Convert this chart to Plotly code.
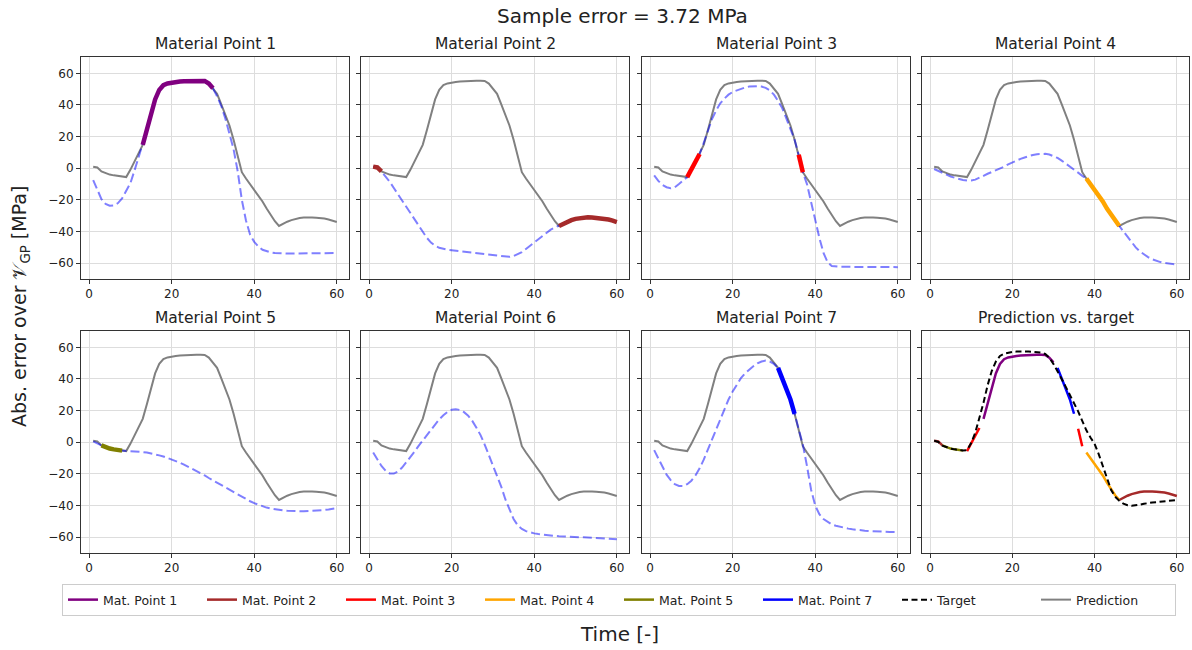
import plotly.graph_objects as go

# ---------------- data ----------------
time = list(range(1, 61))

prediction = [1.0, 0.5, -2.0, -3.2, -4.0, -4.5, -4.9, -5.3, -5.6, -1.0,
              4.0, 9.0, 14.8, 24.0, 34.0, 43.5, 49.5, 52.5, 53.6, 54.2,
              54.5, 54.8, 55.0, 55.1, 55.2, 55.3, 55.3, 55.2, 53.5, 50.5,
              47.0, 40.5, 33.5, 27.0, 18.0, 8.5, -2.5, -6.5, -10.0, -13.5,
              -17.0, -21.0, -25.5, -29.5, -33.5, -36.5, -35.0, -33.8, -32.8, -32.0,
              -31.5, -31.2, -31.0, -31.1, -31.3, -31.5, -31.8, -32.4, -33.1, -34.0]

target = [1.0, 0.2, -2.2, -3.3, -4.0, -4.5, -5.0, -5.2, -5.0, -0.5,
          6.0, 15.0, 25.0, 36.0, 45.0, 51.0, 54.5, 56.0, 56.7, 57.1,
          57.3, 57.4, 57.4, 57.3, 57.1, 56.9, 56.6, 55.8, 53.5, 49.5,
          45.0, 40.0, 35.0, 30.0, 25.0, 19.5, 13.5, 7.5, 3.0, -1.0,
          -7.5, -15.0, -22.5, -30.0, -34.5, -37.0, -38.8, -39.8, -40.2, -40.0,
          -39.5, -38.9, -38.4, -38.1, -37.9, -37.7, -37.5, -37.2, -36.9, -36.5]

gp_mp1 = [-7.5, -14.0, -19.5, -22.5, -23.7, -23.5, -22.0, -19.0, -14.5, -9.5,
          -1.5, 6.5, 14.8, 24.0, 34.0, 43.5, 49.5, 52.5, 53.6, 54.2,
          54.5, 54.8, 55.0, 55.1, 55.2, 55.3, 55.3, 55.2, 53.5, 50.5,
          45.5, 39.5, 31.5, 22.5, 12.0, -2.0, -20.0, -33.0, -42.0, -46.5,
          -49.5, -51.5, -52.5, -53.2, -53.6, -53.8, -53.9, -53.9, -53.9, -53.9,
          -53.9, -53.9, -53.8, -53.8, -53.8, -53.7, -53.7, -53.7, -53.7, -53.6]

gp_mp2 = [1.0, 0.5, -2.0, -5.0, -8.5, -12.5, -16.5, -20.0, -24.0, -28.0,
          -32.0, -36.5, -40.5, -44.0, -47.0, -49.0, -50.3, -51.0, -51.5, -51.8,
          -52.1, -52.4, -52.7, -53.0, -53.3, -53.6, -54.0, -54.3, -54.7, -55.1,
          -55.5, -55.8, -56.0, -56.0, -55.5, -54.5, -53.0, -51.0, -49.0, -47.0,
          -44.5, -42.5, -40.5, -38.8, -37.5, -36.5, -35.0, -33.8, -32.8, -32.0,
          -31.5, -31.2, -31.0, -31.1, -31.3, -31.5, -31.8, -32.4, -33.1, -34.0]

gp_mp3 = [-4.5, -8.0, -10.5, -12.0, -12.7, -12.0, -10.0, -7.5, -5.6, -1.0,
          4.0, 9.0, 16.0, 23.5, 31.0, 36.5, 41.0, 44.0, 46.5, 48.2,
          49.3, 50.3, 51.0, 51.6, 51.9, 51.9, 51.6, 50.8, 49.2, 46.5,
          42.5, 38.0, 31.5, 25.0, 18.0, 8.5, -2.5, -10.0, -22.0, -33.0,
          -44.0, -53.5, -59.5, -61.8, -62.2, -62.3, -62.3, -62.3, -62.4, -62.4,
          -62.4, -62.4, -62.4, -62.4, -62.5, -62.5, -62.5, -62.5, -62.5, -62.5]

gp_mp4 = [-0.5, -1.8, -3.0, -4.2, -5.2, -6.0, -6.8, -7.4, -7.8, -7.8,
          -7.2, -6.2, -4.8, -3.5, -2.4, -1.4, -0.4, 1.0, 2.5, 3.8,
          4.9, 5.9, 6.8, 7.7, 8.4, 8.9, 9.1, 9.1, 8.7, 7.8,
          6.5, 4.8, 3.0, 1.2, -0.8, -2.8, -4.8, -6.5, -10.0, -13.5,
          -17.0, -21.0, -25.5, -29.5, -33.5, -36.5, -40.0, -43.5, -47.0, -50.0,
          -52.5, -54.5, -56.2, -57.5, -58.5, -59.3, -59.9, -60.3, -60.6, -60.8]

gp_mp5 = [0.5, -0.8, -2.0, -3.2, -4.0, -4.5, -4.9, -5.3, -5.5, -5.6,
          -5.8, -6.0, -6.2, -6.5, -7.0, -7.6, -8.3, -9.0, -9.9, -10.8,
          -11.8, -12.9, -14.1, -15.4, -16.8, -18.2, -19.6, -21.0, -22.6, -24.1,
          -25.6, -27.1, -28.7, -30.2, -31.7, -33.2, -34.6, -36.0, -37.3, -38.5,
          -39.6, -40.5, -41.3, -41.9, -42.4, -42.8, -43.1, -43.3, -43.5, -43.6,
          -43.6, -43.6, -43.5, -43.4, -43.3, -43.1, -42.8, -42.5, -42.1, -41.6]

gp_mp6 = [-6.5, -11.0, -15.0, -18.0, -19.7, -19.8, -18.5, -16.0, -12.8, -9.3,
          -6.0, -2.3, 1.0, 4.5, 8.0, 11.5, 14.5, 17.0, 19.2, 20.5,
          20.9, 20.4, 19.0, 16.8, 13.5, 9.2, 4.5, -1.5, -8.0, -15.0,
          -21.5, -28.0, -36.0, -42.5, -48.5, -52.5, -54.8, -56.2, -57.0, -57.6,
          -58.0, -58.4, -58.7, -59.0, -59.2, -59.4, -59.6, -59.7, -59.8, -59.9,
          -60.0, -60.1, -60.2, -60.3, -60.5, -60.6, -60.8, -61.0, -61.2, -61.3]

gp_mp7 = [-5.0, -10.5, -16.0, -20.5, -24.0, -26.5, -27.6, -27.7, -26.5, -24.3,
          -21.0, -16.5, -11.0, -4.5, 2.0, 8.5, 15.0, 21.5, 27.0, 32.0,
          36.5, 40.5, 43.5, 46.0, 48.0, 49.8, 51.0, 51.6, 51.0, 49.5,
          47.0, 40.5, 33.5, 27.0, 18.0, 8.5, -1.5, -15.0, -30.0, -40.0,
          -45.5, -48.5, -50.5, -52.0, -52.8, -53.5, -54.1, -54.6, -55.0, -55.4,
          -55.7, -55.9, -56.1, -56.3, -56.4, -56.5, -56.6, -56.7, -56.7, -56.8]

mp_names = ["Mat. Point 1", "Mat. Point 2", "Mat. Point 3", "Mat. Point 4",
            "Mat. Point 5", "Mat. Point 6", "Mat. Point 7"]
panel_titles = ["Material Point 1", "Material Point 2", "Material Point 3", "Material Point 4",
                "Material Point 5", "Material Point 6", "Material Point 7", "Prediction vs. target"]
gp_curves = [gp_mp1, gp_mp2, gp_mp3, gp_mp4, gp_mp5, gp_mp6, gp_mp7]
# time ranges (inclusive) in which each material point is the active one
active_ranges = [[(13, 30)], [(1, 3), (46, 60)], [(9, 12), (36, 37)], [(38, 46)],
                 [(3, 8)], [], [(31, 35)]]
mp_colors = ["#800080", "#a52a2a", "#ff0000", "#ffa500", "#808000", "#008000", "#0000ff"]

x_ticks = [0, 20, 40, 60]
y_ticks = [-60, -40, -20, 0, 20, 40, 60]

# ---------------- layout geometry (pixels) ----------------
W, H = 1192, 650
col_px = [(81, 349), (361, 629), (642, 910), (922, 1189)]
row_px = [(57, 279), (331, 553)]

FONT = "DejaVu Sans"
fig = go.Figure()


def seg_values(ranges):
    out = []
    for t, v in zip(time, prediction):
        out.append(v if any(a <= t <= b for a, b in ranges) else None)
    return out


annotations = []
for k in range(8):
    r, c = divmod(k, 4)
    xa = "x" if k == 0 else f"x{k+1}"
    ya = "y" if k == 0 else f"y{k+1}"
    x0, x1 = col_px[c]
    y0, y1 = row_px[r]
    dom_x = [x0 / W, x1 / W]
    dom_y = [1 - y1 / H, 1 - y0 / H]
    axis_common = dict(showline=True, linecolor="#333333", linewidth=1, mirror=True,
                       ticks="outside", ticklen=4, tickcolor="#333333",
                       showgrid=True, gridcolor="#dddddd", gridwidth=1, zeroline=False,
                       tickfont=dict(family=FONT, size=12, color="#222222"))
    fig.layout[f"xaxis{'' if k == 0 else k+1}"] = dict(
        domain=dom_x, anchor=ya, range=[-1.95, 62.95], tickvals=x_ticks, **axis_common)
    fig.layout[f"yaxis{'' if k == 0 else k+1}"] = dict(
        domain=dom_y, anchor=xa, range=[-70, 70.3], tickvals=y_ticks,
        showticklabels=(c == 0), **axis_common)
    annotations.append(dict(text=panel_titles[k], x=(dom_x[0] + dom_x[1]) / 2, y=dom_y[1],
                            xref="paper", yref="paper", xanchor="center", yanchor="bottom",
                            yshift=2, showarrow=False,
                            font=dict(family=FONT, size=15.5, color="#222222")))

    if k < 7:
        fig.add_trace(go.Scatter(x=time, y=prediction, mode="lines", xaxis=xa, yaxis=ya,
                                 line=dict(color="#808080", width=2),
                                 name="Prediction", legendrank=8,
                                 showlegend=(k == 0)))
        fig.add_trace(go.Scatter(x=time, y=gp_curves[k], mode="lines", xaxis=xa, yaxis=ya,
                                 line=dict(color="rgba(0,0,255,0.5)", width=2, dash="9px,4px"),
                                 showlegend=False, hoverinfo="skip"))
        if active_ranges[k]:
            fig.add_trace(go.Scatter(x=time, y=seg_values(active_ranges[k]), mode="lines",
                                     xaxis=xa, yaxis=ya,
                                     line=dict(color=mp_colors[k], width=4.5),
                                     showlegend=False))
    else:
        rank = 1
        for i in range(7):
            if not active_ranges[i]:
                continue
            fig.add_trace(go.Scatter(x=time, y=seg_values(active_ranges[i]), mode="lines",
                                     xaxis=xa, yaxis=ya, name=mp_names[i],
                                     line=dict(color=mp_colors[i], width=2.5),
                                     legendrank=rank, showlegend=True))
            rank += 1
        fig.add_trace(go.Scatter(x=time, y=target, mode="lines", xaxis=xa, yaxis=ya,
                                 name="Target", legendrank=7,
                                 line=dict(color="black", width=2, dash="6px,3.5px")))

annotations.append(dict(text="Sample error = 3.72 MPa", x=622 / W, y=1 - 16 / H,
                        xref="paper", yref="paper", xanchor="center", yanchor="middle",
                        showarrow=False, font=dict(family=FONT, size=20, color="#222222")))
annotations.append(dict(text="Time [-]", x=619 / W, y=1 - 634 / H,
                        xref="paper", yref="paper", xanchor="center", yanchor="middle",
                        showarrow=False, font=dict(family=FONT, size=20, color="#222222")))
annotations.append(dict(text="Abs. error over 𝒱<sub>GP</sub> [MPa]", x=20 / W, y=1 - 307 / H,
                        xref="paper", yref="paper", xanchor="center", yanchor="middle",
                        textangle=-90, showarrow=False,
                        font=dict(family=FONT, size=19, color="#222222")))

fig.update_layout(
    width=W, height=H, autosize=False,
    margin=dict(l=0, r=0, t=0, b=0),
    paper_bgcolor="white", plot_bgcolor="white",
    annotations=annotations,
    showlegend=True,
    legend=dict(orientation="h", x=62 / W, xanchor="left", y=1 - 584 / H, yanchor="top",
                bordercolor="#cccccc", borderwidth=1, bgcolor="white",
                entrywidth=94, entrywidthmode="pixels",
                font=dict(family=FONT, size=12.5, color="#222222"),
                traceorder="normal"),
    font=dict(family=FONT),
)

fig.write_html("out.html", config={"displayModeBar": False},
               post_script="document.body.style.margin='0px';document.body.style.padding='0px';")
